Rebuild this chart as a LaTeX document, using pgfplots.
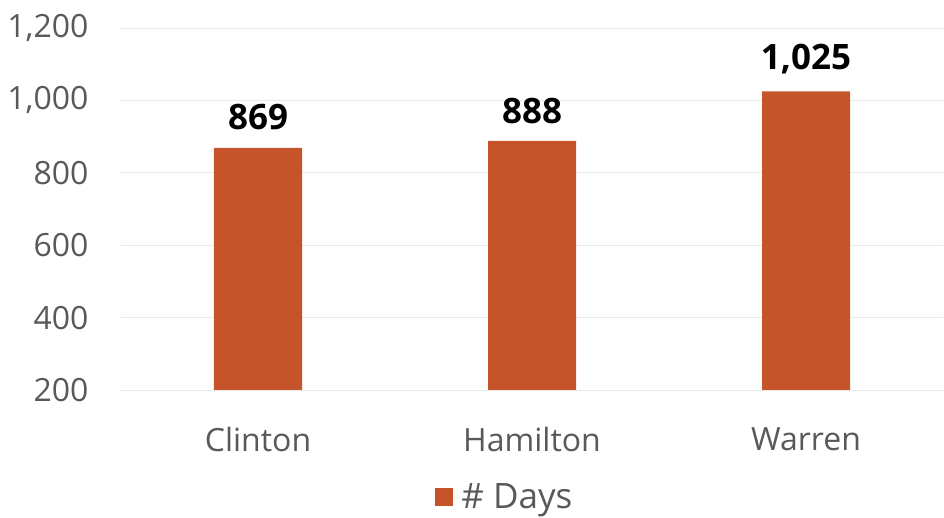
\documentclass[border=0pt]{standalone}
\usepackage{pgfplots}
\pgfplotsset{compat=1.18}
\usepackage{fontspec}
\setmainfont{Open Sans}
\definecolor{barc}{RGB}{197,84,42}
\definecolor{txt}{RGB}{89,89,89}
\definecolor{gridc}{RGB}{232,232,232}
\begin{document}
\begin{tikzpicture}
\useasboundingbox (-121pt,-128pt) rectangle (823pt,390pt);
\begin{axis}[
 at={(0,0)}, anchor=south west,
 scale only axis, width=822pt, height=362pt,
 ybar, bar width=88pt,
 xmin=-0.5, xmax=2.5, ymin=200, ymax=1200,
 xtick=data, xticklabels={Clinton,Hamilton,Warren},
 ytick={200,400,...,1200},
 ymajorgrids, grid style={gridc, line width=0.8pt},
 axis line style={draw=none},
 major tick length=0,
 tick label style={font=\fontsize{32}{36}\selectfont, text=txt},
 xticklabel style={font=\fontsize{32}{38}\selectfont, yshift=-34pt},
 yticklabel style={xshift=-29pt},
 /pgf/number format/assume math mode=true,
 /pgf/number format/1000 sep={,},
 nodes near coords,
 nodes near coords style={font=\fontsize{35}{40}\selectfont\bfseries, text=black, yshift=14pt},
 legend style={at={(0.467,-0.296)}, anchor=center, draw=none, fill=none, font=\fontsize{35}{40}\selectfont, text=txt},
 legend image code/.code={\fill[barc] (0pt,-9pt) rectangle (18pt,9pt); \path (0pt,0pt) -- (24pt,0pt);},
]
\addplot[fill=barc, draw=none] coordinates {(0,869) (1,888) (2,1025)};
\addlegendentry{\# Days}
\end{axis}
\end{tikzpicture}
\end{document}
